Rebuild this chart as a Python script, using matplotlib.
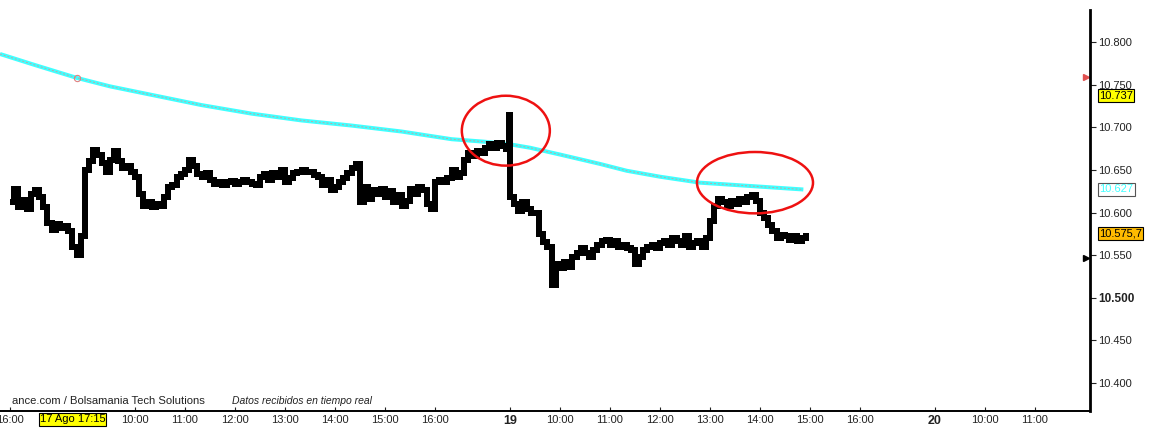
import numpy as np
import matplotlib
matplotlib.use('Agg')
import matplotlib.pyplot as plt
import matplotlib.transforms as mtransforms
from matplotlib.patches import Ellipse

plt.rcParams['font.family'] = ['Liberation Sans', 'DejaVu Sans']

# session runs 9:00 - 17:30, days are glued together on the x axis
SESSION = 8.5

# price (black), 5 min samples per day
day17_times = ['16:00', '16:05', '16:10', '16:15', '16:20', '16:25', '16:30', '16:35', '16:40',
               '16:45', '16:50', '16:55', '17:00', '17:05', '17:10', '17:15', '17:20', '17:25']
day17_vals = [10.612, 10.628, 10.606, 10.615, 10.604, 10.622, 10.626, 10.618, 10.606,
              10.588, 10.580, 10.586, 10.582, 10.584, 10.578, 10.560, 10.550, 10.572]

day18_times = ['09:00', '09:05', '09:10', '09:15', '09:20', '09:25', '09:30', '09:35', '09:40', '09:45',
               '09:50', '09:55', '10:00', '10:05', '10:10', '10:15', '10:20', '10:25', '10:30', '10:35',
               '10:40', '10:45', '10:50', '10:55', '11:00', '11:05', '11:10', '11:15', '11:20', '11:25',
               '11:30', '11:35', '11:40', '11:45', '11:50', '11:55', '12:00', '12:05', '12:10', '12:15',
               '12:20', '12:25', '12:30', '12:35', '12:40', '12:45', '12:50', '12:55', '13:00', '13:05',
               '13:10', '13:15', '13:20', '13:25', '13:30', '13:35', '13:40', '13:45', '13:50', '13:55',
               '14:00', '14:05', '14:10', '14:15', '14:20', '14:25', '14:30', '14:35', '14:40', '14:45',
               '14:50', '14:55', '15:00', '15:05', '15:10', '15:15', '15:20', '15:25', '15:30', '15:35',
               '15:40', '15:45', '15:50', '15:55', '16:00', '16:05', '16:10', '16:15', '16:20', '16:25',
               '16:30', '16:35', '16:40', '16:45', '16:50', '16:55', '17:00', '17:05', '17:10', '17:15',
               '17:20', '17:25', '17:29', '17:30']
day18_vals = [10.650, 10.660, 10.673, 10.668, 10.658, 10.648, 10.662, 10.672, 10.660, 10.652,
              10.655, 10.648, 10.642, 10.622, 10.608, 10.612, 10.606, 10.610, 10.608, 10.618,
              10.630, 10.632, 10.642, 10.645, 10.650, 10.662, 10.655, 10.645, 10.642, 10.646,
              10.638, 10.634, 10.636, 10.632, 10.636, 10.637, 10.633, 10.636, 10.638, 10.636,
              10.634, 10.632, 10.642, 10.645, 10.638, 10.646, 10.642, 10.650, 10.636, 10.640,
              10.646, 10.648, 10.650, 10.647, 10.648, 10.644, 10.642, 10.632, 10.638, 10.626,
              10.630, 10.636, 10.640, 10.646, 10.652, 10.657, 10.612, 10.630, 10.616, 10.626,
              10.622, 10.628, 10.618, 10.625, 10.612, 10.620, 10.608, 10.614, 10.628, 10.622,
              10.630, 10.626, 10.610, 10.604, 10.636, 10.638, 10.636, 10.640, 10.650, 10.642,
              10.646, 10.662, 10.670, 10.666, 10.672, 10.670, 10.676, 10.680, 10.676, 10.682,
              10.678, 10.674, 10.714, 10.632]

day19_times = ['09:00', '09:05', '09:10', '09:15', '09:20', '09:25', '09:30', '09:35', '09:40', '09:45',
               '09:50', '09:55', '10:00', '10:05', '10:10', '10:15', '10:20', '10:25', '10:30', '10:35',
               '10:40', '10:45', '10:50', '10:55', '11:00', '11:05', '11:10', '11:15', '11:20', '11:25',
               '11:30', '11:35', '11:40', '11:45', '11:50', '11:55', '12:00', '12:05', '12:10', '12:15',
               '12:20', '12:25', '12:30', '12:35', '12:40', '12:45', '12:50', '12:55', '13:00', '13:05',
               '13:10', '13:15', '13:20', '13:25', '13:30', '13:35', '13:40', '13:45', '13:50', '13:55',
               '14:00', '14:05', '14:10', '14:15', '14:20', '14:25', '14:30', '14:35', '14:40', '14:45',
               '14:50', '14:55']
day19_vals = [10.618, 10.610, 10.602, 10.612, 10.604, 10.600, 10.600, 10.575, 10.565, 10.560,
              10.515, 10.540, 10.535, 10.542, 10.536, 10.548, 10.552, 10.558, 10.552, 10.548,
              10.556, 10.562, 10.566, 10.568, 10.562, 10.566, 10.560, 10.562, 10.558, 10.556,
              10.540, 10.548, 10.556, 10.560, 10.562, 10.558, 10.564, 10.567, 10.562, 10.570,
              10.566, 10.562, 10.572, 10.560, 10.564, 10.567, 10.560, 10.570, 10.590, 10.608,
              10.616, 10.612, 10.608, 10.614, 10.610, 10.616, 10.612, 10.618, 10.620, 10.614,
              10.600, 10.594, 10.585, 10.578, 10.570, 10.574, 10.572, 10.568, 10.572, 10.566,
              10.570, 10.5757]

# moving average (cyan)
ma_days = [17, 17, 17, 18, 18, 18, 18, 18, 18, 18, 18, 18, 19, 19, 19, 19, 19, 19, 19, 19]
ma_times = ['15:48', '16:30', '17:20', '09:30', '10:30', '11:20', '12:20', '13:20', '14:20', '15:20',
            '16:20', '17:00', '09:00', '09:24', '10:00', '10:48', '11:20', '12:00', '12:48', '14:52']
ma_vals = [10.786, 10.773, 10.758, 10.748, 10.736, 10.726, 10.716, 10.708, 10.702, 10.695,
           10.686, 10.683, 10.680, 10.676, 10.668, 10.657, 10.649, 10.642, 10.635, 10.627]

# axis ticks
tick_days = [17, 18, 18, 18, 18, 18, 18, 18, 19, 19, 19, 19, 19, 19, 19, 19, 20, 20, 20]
tick_times = ['16:00', '10:00', '11:00', '12:00', '13:00', '14:00', '15:00', '16:00',
              '09:00', '10:00', '11:00', '12:00', '13:00', '14:00', '15:00', '16:00',
              '09:00', '10:00', '11:00']
tick_labels = ['16:00', '10:00', '11:00', '12:00', '13:00', '14:00', '15:00', '16:00',
               '19', '10:00', '11:00', '12:00', '13:00', '14:00', '15:00', '16:00',
               '20', '10:00', '11:00']
y_ticks = [10.40, 10.45, 10.50, 10.55, 10.60, 10.65, 10.70, 10.75, 10.80]
y_labels = ['10.400', '10.450', '10.500', '10.550', '10.600', '10.650', '10.700', '10.750', '10.800']

# highlighted zones (red ellipses): day, centre time, centre value, width h, height
circle_days = [18, 19]
circle_times = ['17:25', '13:54']
circle_vals = [10.696, 10.635]
circle_w = [1.76, 2.32]
circle_h = [0.082, 0.072]


def to_t(day, hhmm):
    h, m = hhmm.split(':')
    return (day - 18) * SESSION + (int(h) - 9) + int(m) / 60


price_t = ([to_t(17, s) for s in day17_times] + [to_t(18, s) for s in day18_times]
           + [to_t(19, s) for s in day19_times])
price_v = day17_vals + day18_vals + day19_vals
ma_t = [to_t(d, s) for d, s in zip(ma_days, ma_times)]

fig = plt.figure(figsize=(11.5, 4.28), dpi=100)
ax = fig.add_axes([0, 17 / 428, 1090 / 1150, 401 / 428])

ax.plot(ma_t, ma_vals, color='#40ffff', lw=2.9, zorder=2, solid_capstyle='butt')
ax.plot(ma_t, ma_vals, color='#e09090', lw=0.7, dashes=(2, 2), zorder=2.1, alpha=0.8)
ax.plot([ma_t[2]], [ma_vals[2]], 'o', ms=4.5, mfc='none', mec='#e08080', mew=0.8, zorder=2.2)

ax.plot(price_t, price_v, color='black', lw=4.2, drawstyle='steps-post', zorder=3,
        solid_capstyle='butt', solid_joinstyle='miter', antialiased=False)

for d, s, v, w, h in zip(circle_days, circle_times, circle_vals, circle_w, circle_h):
    ax.add_patch(Ellipse((to_t(d, s), v), w, h, fill=False, edgecolor='#ee1111', lw=1.8, zorder=4))

ax.set_xlim(-1.7, 20.1)
ax.set_ylim(10.3671, 10.8376)

for sp in ['left', 'top']:
    ax.spines[sp].set_visible(False)
ax.spines['right'].set_linewidth(2)
ax.spines['bottom'].set_linewidth(1.4)

ax.set_xticks([to_t(d, s) for d, s in zip(tick_days, tick_times)])
ax.set_xticklabels(tick_labels)
ax.tick_params(axis='x', direction='in', length=3, pad=3, labelsize=8, colors='#222222')
for lab in ax.get_xticklabels():
    if lab.get_text() in ('19', '20'):
        lab.set_fontweight('bold')
        lab.set_fontsize(9)

ax.yaxis.tick_right()
ax.set_yticks(y_ticks)
ax.set_yticklabels(y_labels)
ax.tick_params(axis='y', direction='out', length=4, pad=2, labelsize=8, colors='#222222')
for lab in ax.get_yticklabels():
    if lab.get_text() == '10.500':
        lab.set_fontweight('bold')
        lab.set_fontsize(8.5)

# right side value boxes
trans = mtransforms.blended_transform_factory(ax.transAxes, ax.transData)
ax.text(1.0085, 10.737, '10.737', transform=trans, fontsize=8, va='center', ha='left',
        bbox=dict(boxstyle='square,pad=0.12', fc='#ffff00', ec='black', lw=0.8), clip_on=False)
ax.text(1.0085, 10.627, '10.627', transform=trans, fontsize=8, va='center', ha='left', color='#40ffff',
        bbox=dict(boxstyle='square,pad=0.12', fc='white', ec='#555555', lw=0.8), clip_on=False)
ax.text(1.0085, 10.5757, '10.575,7', transform=trans, fontsize=8, va='center', ha='left',
        bbox=dict(boxstyle='square,pad=0.12', fc='#ffbb00', ec='black', lw=0.8), clip_on=False)
ax.plot([0.996], [10.759], marker='>', color='#e05050', ms=4, transform=trans, clip_on=False)
ax.plot([0.996], [10.547], marker='>', color='black', ms=4, transform=trans, clip_on=False)

# cursor date box on the time axis
transx = mtransforms.blended_transform_factory(ax.transData, ax.transAxes)
ax.text(to_t(17, '17:15'), -0.021, '17 Ago 17:15', transform=transx, fontsize=8, ha='center',
        va='center', bbox=dict(boxstyle='square,pad=0.1', fc='#ffff00', ec='black', lw=0.8),
        clip_on=False, zorder=6)

# source line
ax.text(12 / 1090, 0.013, 'ance.com / Bolsamania Tech Solutions', transform=ax.transAxes,
        fontsize=8.1, ha='left', va='bottom', color='#222222')
ax.text(232 / 1090, 0.013, 'Datos recibidos en tiempo real', transform=ax.transAxes,
        fontsize=7.5, ha='left', va='bottom', style='italic', color='#222222')

fig.savefig('out.png', dpi=100)
